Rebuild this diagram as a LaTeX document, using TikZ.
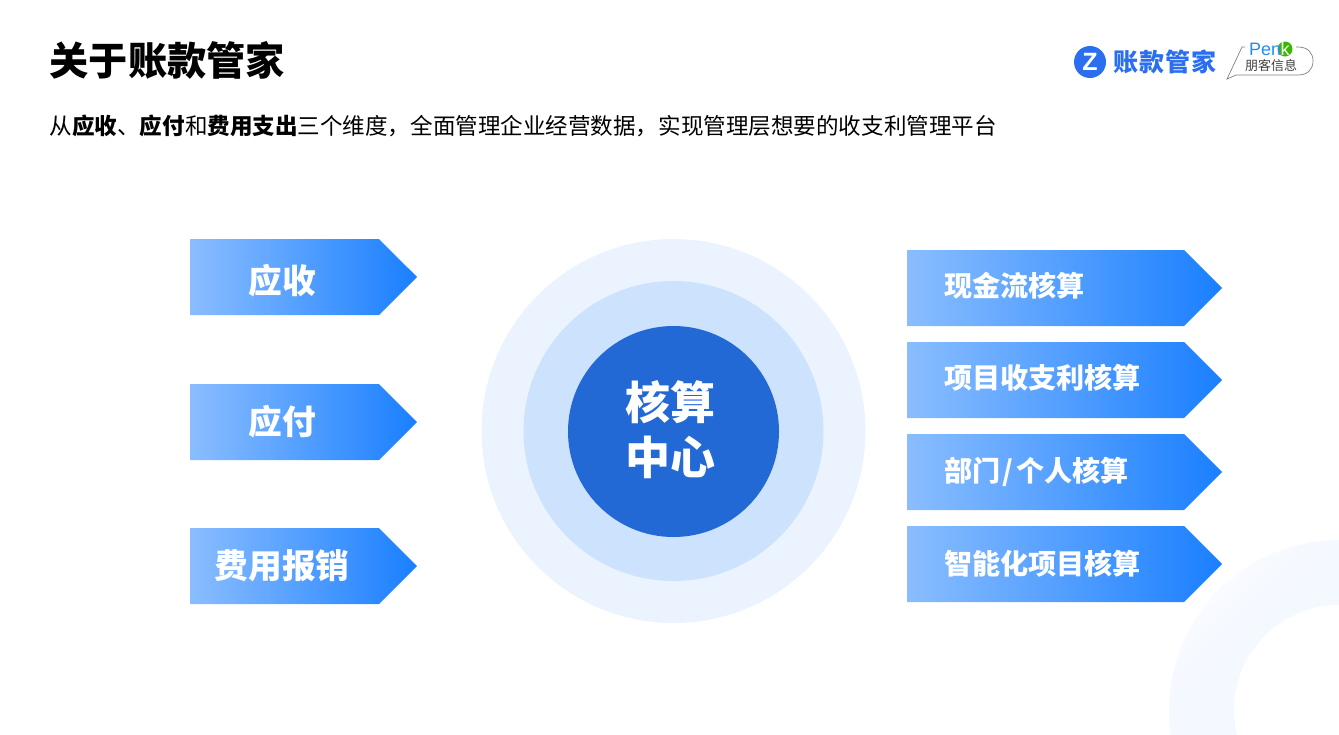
\documentclass[tikz,border=0pt]{standalone}
\usepackage{fontspec}
\setmainfont{Noto Sans CJK SC}
\newfontfamily\latinfont{Liberation Sans}
\usetikzlibrary{shapes,arrows,positioning}
\definecolor{ringblue}{HTML}{F4F8FF}
\definecolor{brandblue}{HTML}{2B6FF0}
\pgfdeclarehorizontalshading{ringfade}{100bp}{color(0bp)=(white); color(14bp)=(white); color(32bp)=(ringblue); color(100bp)=(ringblue)}
\tikzstyle{arrowbox} = [signal, signal to=east, signal pointer angle=90, inner sep=0pt, outer sep=0pt,
    left color={rgb,255:red,138;green,189;blue,255}, right color={rgb,255:red,26;green,127;blue,255}, minimum height=76pt]
\tikzstyle{leftbox} = [arrowbox, minimum width=227pt]
\tikzstyle{rightbox} = [arrowbox, minimum width=315pt]
\tikzstyle{lefttext} = [text=white, font=\fontsize{33.7}{38}\selectfont\bfseries, inner sep=0pt]
\tikzstyle{righttext} = [text=white, font=\fontsize{28.1}{32}\selectfont\bfseries, inner sep=0pt, anchor=west]
\tikzstyle{ring} = [circle, inner sep=0pt, outer sep=0pt]
\begin{document}
\begin{tikzpicture}[x=1pt, y=-1pt, node distance = 16pt]
		\useasboundingbox (0,0) rectangle (1339,734);
		\clip (0,0) rectangle (1339,734);
		% background ring
		\shade [shading=ringfade, shading angle=-45, even odd rule] (1339,710) circle (170) (1339,710) circle (105);
		
		% heading
		\node [anchor=west, inner sep=0pt, font=\fontsize{39.2}{44}\selectfont\bfseries] (title) at (49.5,60) {关于账款管家};
		\node [anchor=west, inner sep=0pt, font=\fontsize{22.55}{26}\selectfont] (subtitle) at (49.5,126) {从\textbf{应收}、\textbf{应付}和\textbf{费用支出}三个维度，全面管理企业经营数据，实现管理层想要的收支利管理平台};
		
		% logo
		\node [ring, fill=brandblue, minimum size=32pt] (logo) at (1090,62) {};
		\node [text=white, inner sep=0pt, font=\latinfont\fontsize{25}{26}\selectfont\bfseries] (logoz) at (logo) {Z};
		\node [anchor=west, inner sep=0pt, text=brandblue, font=\fontsize{25}{28}\selectfont\bfseries] (logotext) at (1113,62) {账\hspace{1pt}款\hspace{1pt}管\hspace{1pt}家};
		\draw [gray, line width=0.7pt] (1245,47) -- (1242,47) -- (1227,79) -- (1236,75) -- (1298,75) .. controls (1308,75) and (1313,69) .. (1313,61) .. controls (1313,53) and (1308,47) .. (1298,47) -- (1296,47);
		\node [ring, fill=green!60!black!70!lime, minimum size=15pt] (penkdot) at (1285,49) {};
		\node [anchor=west, inner sep=0pt, text=brandblue!80!cyan, font=\latinfont\fontsize{18}{20}\selectfont] (penk) at (1249,49) {Pen};
		\node [inner sep=0pt, text=white, font=\latinfont\fontsize{18}{20}\selectfont] (penkk) at (penkdot) {k};
		\node [inner sep=0pt, text=black!75, font=\fontsize{13}{15}\selectfont] (penkcn) at (1271,66) {朋客信息};
		
		% node placement
		\node [ring, fill={rgb,255:red,235;green,244;blue,254}, minimum size=384pt] (outer) at (673.5,431) {};
		\node [ring, fill={rgb,255:red,204;green,226;blue,253}, minimum size=300pt] (middle) at (673.5,431) {};
		\node [ring, fill={rgb,255:red,34;green,105;blue,213}, minimum size=211pt] (hub) at (673.5,431.5) {};
		\node [text=white, align=center, inner sep=0pt, font=\fontsize{45}{55}\selectfont\bfseries] (hubtext) at (670,430) {核算\\中心};
		
		\node [leftbox] (receive) at (284.5,277) {};
		\node [leftbox, below = 69pt of receive] (pay) {};
		\node [leftbox, below = 68pt of pay] (expense) {};
		
		\node [rightbox] (cash) at (1045.5,288) {};
		\node [rightbox, below = of cash] (project) {};
		\node [rightbox, below = of project] (dept) {};
		\node [rightbox, below = of dept] (smart) {};
		
		% labels
		\node [lefttext, xshift=-2.5pt, yshift=-4pt] at (receive) {应收};
		\node [lefttext, xshift=-2.5pt, yshift=0pt] at (pay) {应付};
		\node [lefttext, xshift=-2.5pt, yshift=0pt] at (expense) {费用报销};
		\node [righttext, xshift=37pt, yshift=2pt] at (cash.west) {现金流核算};
		\node [righttext, xshift=37pt, yshift=2pt] at (project.west) {项目收支利核算};
		\node [righttext, xshift=37pt] at (dept.west) {部门\hspace{2.5pt}/\hspace{2.5pt}个人核算};
		\node [righttext, xshift=37pt] at (smart.west) {智能化项目核算};
	\end{tikzpicture}
\end{document}
